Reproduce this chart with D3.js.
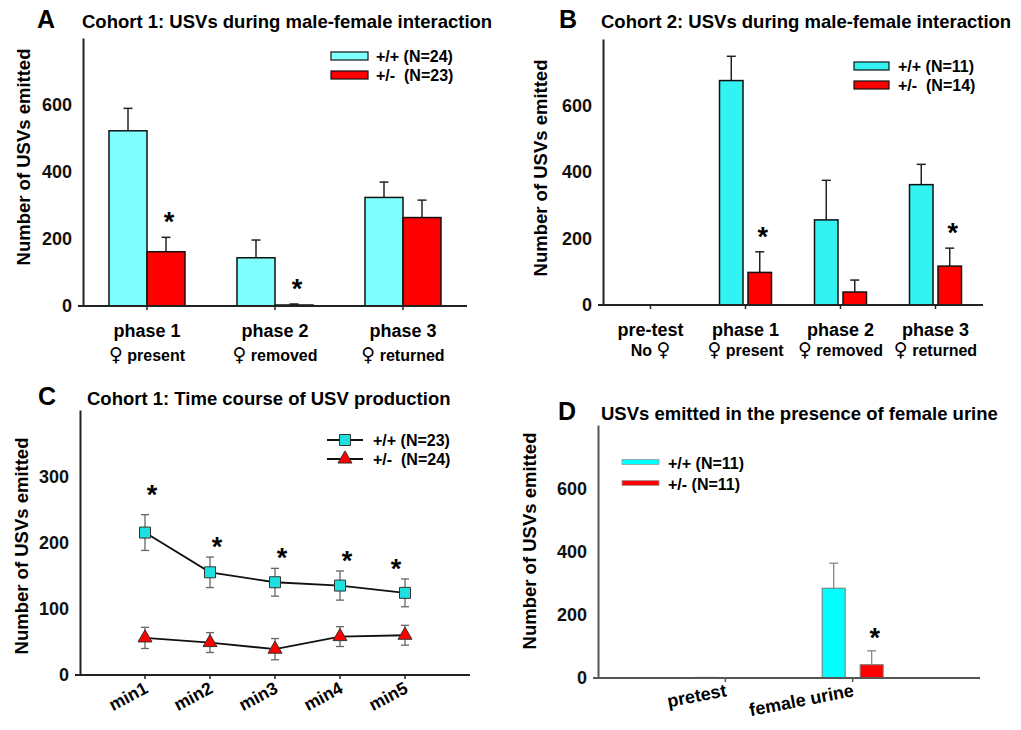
<!DOCTYPE html>
<meta charset="utf-8">
<title>USV figure</title>
<script src="https://d3js.org/d3.v7.min.js"></script>
<style>
  body { margin: 0; background: #fff; }
  svg { font-family: "Liberation Sans", Arial, sans-serif; font-weight: bold; }
</style>
<body>
<div id="fig"></div>
<script>
// ---- data ----
var catsA = ["phase 1", "phase 2", "phase 3"];
var subA = ["\u2640 present", "\u2640 removed", "\u2640 returned"];
var wtA = [523, 144, 324];
var wtErrA = [67, 53, 46];
var hetA = [162, 3, 264];
var hetErrA = [43, 3, 52];
var sigA = [true, true, false];
var legendA = ["+/+ (N=24)", "+/-  (N=23)"];

var catsB = ["pre-test", "phase 1", "phase 2", "phase 3"];
var subB = ["No \u2640", "\u2640 present", "\u2640 removed", "\u2640 returned"];
var wtB = [0, 675, 256, 362];
var wtErrB = [0, 73, 119, 61];
var hetB = [0, 98, 39, 117];
var hetErrB = [0, 62, 36, 54];
var sigB = [false, true, false, true];
var legendB = ["+/+ (N=11)", "+/-  (N=14)"];

var minsC = ["min1", "min2", "min3", "min4", "min5"];
var wtC = [215, 155, 140, 135, 124];
var wtSeC = [27, 23, 21, 22, 21];
var hetC = [56, 49, 39, 58, 60];
var hetSeC = [16, 15, 16, 15, 15];
var legendC = ["+/+ (N=23)", "+/-  (N=24)"];

var catsD = ["pretest", "female urine"];
var wtD = [2, 284];
var wtErrD = [0, 79];
var hetD = [0, 42];
var hetErrD = [0, 44];
var sigD = [false, true];
var legendD = ["+/+ (N=11)", "+/- (N=11)"];

var yTicks = [0, 200, 400, 600];
var yTicksC = [0, 100, 200, 300];

var svg = d3.select("#fig").append("svg")
    .attr("width", 1021)
    .attr("height", 730);

svg.append("rect").attr("width", 1021).attr("height", 730).attr("fill", "#fff");

function heading(letter, lx, title, tx, y) {
    svg.append("text").attr("x", lx).attr("y", y)
        .attr("font-size", 25).text(letter);
    svg.append("text").attr("x", tx).attr("y", y)
        .attr("font-size", 18.5).text(title);
}

function yLabel(x, y) {
    svg.append("text")
        .attr("transform", "translate(" + x + "," + y + ") rotate(-90)")
        .attr("text-anchor", "middle")
        .attr("font-size", 18.5)
        .text("Number of USVs emitted");
}

// second line of a category label: the female sign is drawn from DejaVu, larger
function subLabel(x, y, str) {
    var t = svg.append("text").attr("x", x).attr("y", y)
        .attr("text-anchor", "middle").attr("font-size", 16);
    str.split(/(\u2640)/).filter(s => s.length).forEach(function (s) {
        var sp = t.append("tspan").text(s);
        if (s === "\u2640") sp.attr("font-family", "DejaVu Sans").attr("font-weight", "normal").attr("font-size", 19);
    });
}

function yAxis(y, left, ticks, color) {
    var g = svg.append("g")
        .attr("transform", "translate(" + left + ",0)")
        .call(d3.axisLeft(y).tickValues(ticks).tickSize(0).tickPadding(11).tickSizeOuter(0));
    g.select(".domain").attr("stroke", color).attr("stroke-width", 2);
    g.selectAll("text").attr("font-size", 18).attr("font-family", null).attr("fill", "#111");
}

function xAxisLine(x, y, bottom, color, ticksAt) {
    var r = x.range();
    svg.append("line")
        .attr("x1", r[0] - 5).attr("x2", r[1])
        .attr("y1", bottom).attr("y2", bottom)
        .attr("stroke", color).attr("stroke-width", 2);
    svg.selectAll(null).data(ticksAt).enter().append("line")
        .attr("x1", d => d).attr("x2", d => d)
        .attr("y1", bottom).attr("y2", bottom + 4)
        .attr("stroke", color).attr("stroke-width", 1.5);
}

// grouped bar panel
function barPanel(o) {
    var x = d3.scaleBand().domain(o.cats).range([o.left, o.right]).padding(0);
    var y = d3.scaleLinear().domain([0, 800]).range([o.bottom, o.top]);
    var inner = d3.scaleBand().domain(["wt", "het"]).range([-o.half, o.half])
        .paddingInner(o.gap).paddingOuter(0);
    var cx = d => x(d) + x.bandwidth() / 2;

    var rows = [];
    o.cats.forEach(function (c, i) {
        rows.push({ c: c, g: "wt", v: o.wt[i], e: o.wtErr[i], s: false });
        rows.push({ c: c, g: "het", v: o.het[i], e: o.hetErr[i], s: o.sig[i] });
    });
    rows = rows.filter(d => d.v > 0);

    var g = svg.append("g");
    // error bars (upper whisker only)
    var eb = g.selectAll(".eb").data(rows.filter(d => d.e > 0)).enter().append("g");
    var mid = d => cx(d.c) + inner(d.g) + inner.bandwidth() / 2;
    eb.append("line")
        .attr("x1", mid).attr("x2", mid)
        .attr("y1", d => y(d.v)).attr("y2", d => y(d.v + d.e))
        .attr("stroke", o.errColor).attr("stroke-width", 1.5);
    eb.append("line")
        .attr("x1", d => mid(d) - 4.5).attr("x2", d => mid(d) + 4.5)
        .attr("y1", d => y(d.v + d.e)).attr("y2", d => y(d.v + d.e))
        .attr("stroke", o.errColor).attr("stroke-width", 1.5);

    g.selectAll(".bar").data(rows).enter().append("rect")
        .attr("x", d => cx(d.c) + inner(d.g))
        .attr("width", inner.bandwidth())
        .attr("y", d => y(d.v))
        .attr("height", d => o.bottom - y(d.v))
        .attr("fill", d => d.g === "wt" ? o.cyan : "#ff0000")
        .attr("stroke", o.barStroke).attr("stroke-width", o.barStrokeW);

    // significance stars
    g.selectAll(".star").data(rows.filter(d => d.s)).enter().append("text")
        .attr("x", d => mid(d) + 3)
        .attr("y", d => y(d.v + d.e) - 6)
        .attr("text-anchor", "middle")
        .attr("font-size", 27)
        .text("*");

    yAxis(y, o.left, yTicks, o.axisColor);
    xAxisLine(x, y, o.bottom, o.axisColor, o.cats.map(cx));
    return { x: x, y: y, cx: cx };
}

// ---------- Panel A ----------
heading("A", 37, "Cohort 1: USVs during male-female interaction", 82, 28);
yLabel(30, 157);
var pa = barPanel({
    cats: catsA, wt: wtA, wtErr: wtErrA, het: hetA, hetErr: hetErrA, sig: sigA,
    left: 83, right: 467, top: 38, bottom: 306,
    half: 38, gap: 0, cyan: "#80ffff", barStroke: "#111", barStrokeW: 1.5,
    errColor: "#222", axisColor: "#222"
});
catsA.forEach(function (c, i) {
    svg.append("text").attr("x", pa.cx(c)).attr("y", 337).attr("text-anchor", "middle")
        .attr("font-size", 18).text(c);
    subLabel(pa.cx(c), 361, subA[i]);
});
[["#80ffff", 52], ["#ff0000", 71]].forEach(function (d, i) {
    svg.append("rect").attr("x", 331).attr("y", d[1]).attr("width", 37).attr("height", 8)
        .attr("fill", d[0]).attr("stroke", "#111").attr("stroke-width", 1.2);
    svg.append("text").attr("x", 376).attr("y", d[1] + 10).attr("font-size", 16)
        .attr("xml:space", "preserve").text(legendA[i]);
});

// ---------- Panel B ----------
heading("B", 559, "Cohort 2: USVs during male-female interaction", 601, 28);
yLabel(547, 168);
var pb = barPanel({
    cats: catsB, wt: wtB, wtErr: wtErrB, het: hetB, hetErr: hetErrB, sig: sigB,
    left: 603, right: 983, top: 39, bottom: 305,
    half: 26, gap: 0.175, cyan: "#33f2f2", barStroke: "#111", barStrokeW: 1.5,
    errColor: "#222", axisColor: "#222"
});
catsB.forEach(function (c, i) {
    svg.append("text").attr("x", pb.cx(c)).attr("y", 336).attr("text-anchor", "middle")
        .attr("font-size", 18).text(c);
    subLabel(pb.cx(c), 356, subB[i]);
});
[["#33f2f2", 62], ["#ff0000", 81]].forEach(function (d, i) {
    svg.append("rect").attr("x", 854).attr("y", d[1]).attr("width", 35).attr("height", 8)
        .attr("fill", d[0]).attr("stroke", "#111").attr("stroke-width", 1.2);
    svg.append("text").attr("x", 898).attr("y", d[1] + 10).attr("font-size", 16)
        .attr("xml:space", "preserve").text(legendB[i]);
});

// ---------- Panel C ----------
heading("C", 38, "Cohort 1: Time course of USV production", 87, 405);
yLabel(28, 546);
var xC = d3.scalePoint().domain(minsC).range([80, 470]).padding(1);
var yC = d3.scaleLinear().domain([0, 400]).range([675, 410]);
var cyanC = "#1fe0e0";

function seriesC(vals, se, color, shape) {
    var pts = minsC.map((m, i) => ({ m: m, v: vals[i], e: se[i] }));
    var g = svg.append("g");
    g.append("path").datum(pts)
        .attr("d", d3.line().x(d => xC(d.m)).y(d => yC(d.v)))
        .attr("fill", "none").attr("stroke", "#111").attr("stroke-width", 1.8);
    var eb = g.selectAll(".e").data(pts).enter().append("g").attr("stroke", "#666").attr("stroke-width", 1.3);
    eb.append("line").attr("x1", d => xC(d.m)).attr("x2", d => xC(d.m))
        .attr("y1", d => yC(d.v - d.e)).attr("y2", d => yC(d.v + d.e));
    [-1, 1].forEach(function (s) {
        eb.append("line").attr("x1", d => xC(d.m) - 4).attr("x2", d => xC(d.m) + 4)
            .attr("y1", d => yC(d.v + s * d.e)).attr("y2", d => yC(d.v + s * d.e));
    });
    g.selectAll(".m").data(pts).enter().append("path")
        .attr("transform", d => "translate(" + xC(d.m) + "," + yC(d.v) + ")")
        .attr("d", d3.symbol().type(shape).size(shape === d3.symbolSquare ? 121 : 85))
        .attr("fill", color).attr("stroke", "#333").attr("stroke-width", 1);
    return pts;
}
var ptsWt = seriesC(wtC, wtSeC, cyanC, d3.symbolSquare);
seriesC(hetC, hetSeC, "#ff0000", d3.symbolTriangle);
svg.selectAll(".starC").data(ptsWt).enter().append("text")
    .attr("x", (d, i) => xC(d.m) + (i === 4 ? -9 : 7))
    .attr("y", (d, i) => yC(d.v + d.e) - (i === 0 ? 11 : 1))
    .attr("text-anchor", "middle").attr("font-size", 27).text("*");

yAxis(yC, 80, yTicksC, "#222");
xAxisLine(xC, yC, 675, "#222", minsC.map(m => xC(m)));
minsC.forEach(function (m) {
    svg.append("text")
        .attr("transform", "translate(" + (xC(m) + 4) + ",692) rotate(-28)")
        .attr("text-anchor", "end").attr("font-size", 17.5).text(m);
});
[[cyanC, 440, d3.symbolSquare], ["#ff0000", 459, d3.symbolTriangle]].forEach(function (d, i) {
    svg.append("line").attr("x1", 327).attr("x2", 363).attr("y1", d[1]).attr("y2", d[1])
        .attr("stroke", "#111").attr("stroke-width", 1.8);
    svg.append("path").attr("transform", "translate(345," + d[1] + ")")
        .attr("d", d3.symbol().type(d[2]).size(i === 0 ? 121 : 85))
        .attr("fill", d[0]).attr("stroke", "#333");
    svg.append("text").attr("x", 373).attr("y", d[1] + 6).attr("font-size", 16)
        .attr("xml:space", "preserve").text(legendC[i]);
});

// ---------- Panel D ----------
heading("D", 558, "USVs emitted in the presence of female urine", 601, 420);
yLabel(536, 541);
var xD = d3.scalePoint().domain(catsD).range([598, 980]).padding(1);
var yD = d3.scaleLinear().domain([0, 800]).range([678, 425]);
var innerD = d3.scaleBand().domain(["wt", "het"]).range([-30.5, 30.5]).paddingInner(0.395);
var rowsD = [];
catsD.forEach(function (c, i) {
    rowsD.push({ c: c, g: "wt", v: wtD[i], e: wtErrD[i], s: false });
    rowsD.push({ c: c, g: "het", v: hetD[i], e: hetErrD[i], s: sigD[i] });
});
rowsD = rowsD.filter(d => d.v > 0);
var midD = d => xD(d.c) + innerD(d.g) + innerD.bandwidth() / 2;
var gD = svg.append("g");
var ebD = gD.selectAll(".e").data(rowsD.filter(d => d.e > 0)).enter().append("g")
    .attr("stroke", "#888").attr("stroke-width", 1.3);
ebD.append("line").attr("x1", midD).attr("x2", midD)
    .attr("y1", d => yD(d.v)).attr("y2", d => yD(d.v + d.e));
ebD.append("line").attr("x1", d => midD(d) - 4.5).attr("x2", d => midD(d) + 4.5)
    .attr("y1", d => yD(d.v + d.e)).attr("y2", d => yD(d.v + d.e));
gD.selectAll(".bar").data(rowsD).enter().append("rect")
    .attr("x", d => xD(d.c) + innerD(d.g))
    .attr("width", innerD.bandwidth())
    .attr("y", d => yD(d.v))
    .attr("height", d => 678 - yD(d.v))
    .attr("fill", d => d.g === "wt" ? "#00ffff" : "#ff0000")
    .attr("stroke", "#777").attr("stroke-width", 1);
gD.selectAll(".star").data(rowsD.filter(d => d.s)).enter().append("text")
    .attr("x", d => midD(d) + 3).attr("y", d => yD(d.v + d.e) - 4)
    .attr("text-anchor", "middle").attr("font-size", 27).text("*");
yAxis(yD, 598, yTicks, "#555");
xAxisLine(xD, yD, 678, "#555", catsD.map(c => xD(c)));
catsD.forEach(function (c) {
    svg.append("text")
        .attr("transform", "translate(" + (xD(c) + 2) + ",696) rotate(-11)")
        .attr("text-anchor", "end").attr("font-size", 18).text(c);
});
[["#00ffff", 462], ["#ff0000", 483]].forEach(function (d, i) {
    svg.append("rect").attr("x", 622).attr("y", d[1] - 2.5).attr("width", 37).attr("height", 5)
        .attr("fill", d[0]).attr("stroke", "#999").attr("stroke-width", 0.8);
    svg.append("text").attr("x", 668).attr("y", d[1] + 7).attr("font-size", 16)
        .attr("xml:space", "preserve").text(legendD[i]);
});
</script>
</body>
